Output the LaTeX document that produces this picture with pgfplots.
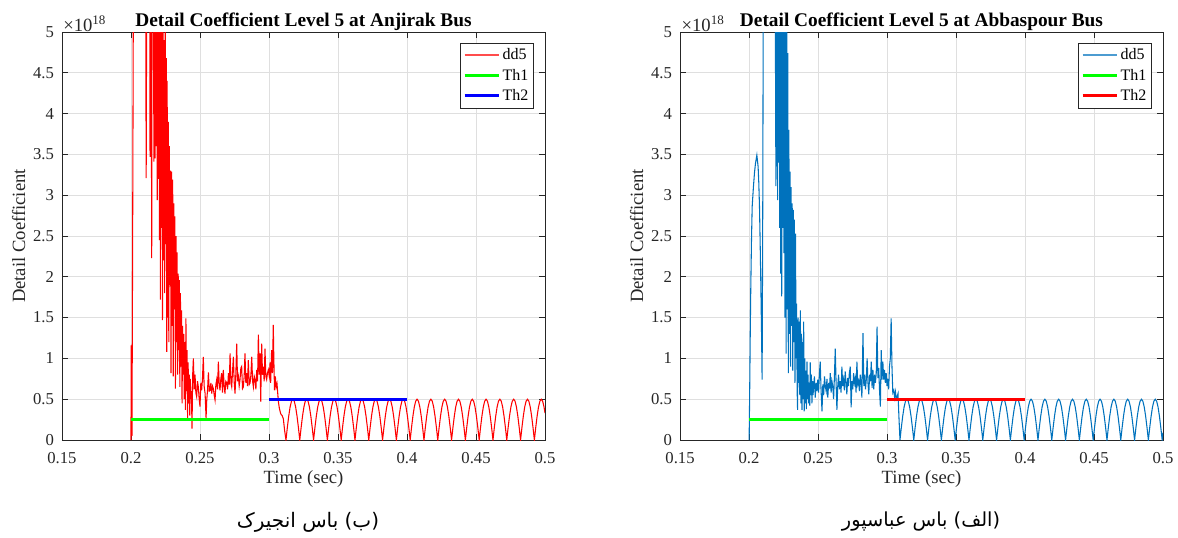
\documentclass[border=0pt]{standalone}
\usepackage{fontspec}
\setmainfont{Liberation Serif}
\newfontfamily\arabicfont[Script=Arabic]{DejaVu Sans}
\TeXXeTstate=1
\usepackage{pgfplots}
\usepackage{pgfplotstable}
\pgfplotsset{compat=1.18}
\definecolor{axgray}{rgb}{0.15,0.15,0.15}
\definecolor{gridgray}{RGB}{223,223,223}
\definecolor{mblue}{rgb}{0,0.447,0.741}

\pgfplotstableread[row sep=\\]{
x y\\
0.2000 0\\ 0.2001 1.16\\ 0.2004 0.60\\ 0.2007 0.05\\ 0.2012 2.5\\ 0.2018 6.0\\ 0.2030 9.0\\ 0.2045 10\\ 0.2060 9.0\\ 0.2075 9.5\\ 0.2090 8.5\\ 0.2105 6.5\\
0.2110 3.21\\ 0.2115 6.2\\ 0.2120 5.5\\ 0.2125 7.0\\ 0.2130 5.8\\ 0.2135 6.5\\ 0.2138 3.47\\ 0.2141 5.6\\ 0.2145 6.3\\ 0.2150 2.23\\ 0.2153 5.8\\ 0.2158 5.2\\
0.2162 6.0\\ 0.2166 3.41\\ 0.2170 5.5\\ 0.2174 3.45\\ 0.2178 6.0\\ 0.2182 3.6\\ 0.2186 5.4\\ 0.2190 2.94\\ 0.2194 5.8\\ 0.2198 3.2\\ 0.2202 6.0\\ 0.2206 2.45\\
0.2210 5.5\\ 0.2213 1.72\\ 0.2216 5.2\\ 0.2220 2.6\\ 0.2224 5.6\\ 0.2228 1.47\\ 0.2232 5.3\\ 0.2236 2.2\\ 0.2240 4.9\\ 0.2244 1.8\\ 0.2248 5.1\\ 0.2252 2.4\\
0.2256 4.68\\ 0.2259 1.08\\ 0.2262 4.4\\ 0.2266 1.5\\ 0.2270 3.9\\ 0.2274 1.2\\ 0.2278 3.6\\ 0.2282 1.9\\ 0.2286 3.3\\ 0.2290 0.82\\ 0.2294 3.29\\ 0.2298 1.4\\
0.2302 3.19\\ 0.2306 0.78\\ 0.2310 2.9\\ 0.2314 1.6\\ 0.2318 2.74\\ 0.2322 0.63\\ 0.2326 2.5\\ 0.2330 1.2\\ 0.2334 2.3\\ 0.2338 0.8\\ 0.2342 2.04\\ 0.2346 1.1\\
0.2350 1.96\\ 0.2354 0.65\\ 0.2358 1.8\\ 0.2362 0.9\\ 0.2366 1.59\\ 0.2370 0.45\\ 0.2374 1.4\\ 0.2378 0.8\\ 0.2382 1.3\\ 0.2386 0.5\\ 0.2390 1.2\\ 0.2394 0.37\\
0.2398 1.49\\ 0.2402 0.6\\ 0.2406 1.1\\ 0.2410 0.27\\ 0.2414 0.95\\ 0.2418 0.45\\ 0.2422 0.8\\ 0.2426 0.3\\ 0.2430 0.75\\ 0.2434 0.5\\ 0.2438 0.6\\ 0.2442 0.14\\
0.2447 0.8\\ 0.2452 1.00\\ 0.2458 0.62\\ 0.2464 0.80\\ 0.2470 0.58\\ 0.2476 0.53\\ 0.2482 0.72\\ 0.2488 0.65\\ 0.2494 0.50\\ 0.2500 0.41\\ 0.2506 0.70\\ 0.2512 0.61\\
0.2518 0.75\\ 0.2524 1.02\\ 0.2530 0.66\\ 0.2537 0.57\\ 0.2544 0.27\\ 0.2549 0.49\\ 0.2555 0.62\\ 0.2561 0.83\\ 0.2567 0.60\\ 0.2573 0.61\\ 0.2579 0.70\\ 0.2585 0.57\\
0.2591 0.66\\ 0.2597 0.63\\ 0.2603 0.55\\ 0.2609 0.49\\ 0.2615 0.68\\ 0.2621 0.74\\ 0.2627 0.62\\ 0.2633 0.96\\ 0.2639 0.70\\ 0.2645 0.61\\ 0.2651 0.75\\ 0.2657 0.82\\
0.2663 0.58\\ 0.2669 0.86\\ 0.2675 0.66\\ 0.2681 0.57\\ 0.2687 0.72\\ 0.2694 0.70\\ 0.2700 0.62\\ 0.2706 0.82\\ 0.2712 0.68\\ 0.2718 1.06\\ 0.2724 0.70\\ 0.2730 0.65\\
0.2736 0.85\\ 0.2742 1.02\\ 0.2748 0.70\\ 0.2754 0.57\\ 0.2760 0.82\\ 0.2766 1.18\\ 0.2772 0.72\\ 0.2778 0.78\\ 0.2784 0.66\\ 0.2790 0.74\\ 0.2796 0.88\\ 0.2802 0.90\\
0.2808 0.63\\ 0.2814 0.65\\ 0.2820 0.78\\ 0.2826 1.06\\ 0.2832 0.70\\ 0.2838 0.82\\ 0.2844 0.66\\ 0.2850 0.98\\ 0.2857 0.68\\ 0.2863 0.70\\ 0.2869 0.80\\ 0.2875 1.02\\
0.2881 0.72\\ 0.2887 0.65\\ 0.2893 0.78\\ 0.2899 0.74\\ 0.2905 0.62\\ 0.2911 0.86\\ 0.2917 0.72\\ 0.2923 1.29\\ 0.2929 0.80\\ 0.2935 1.06\\ 0.2940 0.47\\ 0.2947 1.18\\
0.2953 0.80\\ 0.2959 0.90\\ 0.2965 0.72\\ 0.2971 1.12\\ 0.2977 0.78\\ 0.2983 0.74\\ 0.2989 0.82\\ 0.2995 0.86\\ 0.3002 0.78\\ 0.3008 0.95\\ 0.3012 0.70\\ 0.3019 1.10\\
0.3025 0.82\\ 0.3031 1.41\\ 0.3035 1.00\\ 0.3040 0.61\\ 0.3046 0.78\\ 0.3052 0.65\\ 0.3058 0.69\\ 0.3068 0.47\\ 0.3075 0.39\\ 0.3085 0.32\\ 0.3095 0.30\\ 0.3104 0.26\\ 0.3113 0.12\\
0.3123 0\\ 0.3133 .155\\ 0.3143 .294\\ 0.3153 .405\\ 0.3163 .476\\ 0.3173 .5\\ 0.3183 .476\\ 0.3193 .405\\ 0.3203 .294\\ 0.3213 .155\\
0.3223 0\\ 0.3233 .155\\ 0.3243 .294\\ 0.3253 .405\\ 0.3263 .476\\ 0.3273 .5\\ 0.3283 .476\\ 0.3293 .405\\ 0.3303 .294\\ 0.3313 .155\\
0.3323 0\\ 0.3333 .155\\ 0.3343 .294\\ 0.3353 .405\\ 0.3363 .476\\ 0.3373 .5\\ 0.3383 .476\\ 0.3393 .405\\ 0.3403 .294\\ 0.3413 .155\\
0.3423 0\\ 0.3433 .155\\ 0.3443 .294\\ 0.3453 .405\\ 0.3463 .476\\ 0.3473 .5\\ 0.3483 .476\\ 0.3493 .405\\ 0.3503 .294\\ 0.3513 .155\\
0.3523 0\\ 0.3533 .155\\ 0.3543 .294\\ 0.3553 .405\\ 0.3563 .476\\ 0.3573 .5\\ 0.3583 .476\\ 0.3593 .405\\ 0.3603 .294\\ 0.3613 .155\\
0.3623 0\\ 0.3633 .155\\ 0.3643 .294\\ 0.3653 .405\\ 0.3663 .476\\ 0.3673 .5\\ 0.3683 .476\\ 0.3693 .405\\ 0.3703 .294\\ 0.3713 .155\\
0.3723 0\\ 0.3733 .155\\ 0.3743 .294\\ 0.3753 .405\\ 0.3763 .476\\ 0.3773 .5\\ 0.3783 .476\\ 0.3793 .405\\ 0.3803 .294\\ 0.3813 .155\\
0.3823 0\\ 0.3833 .155\\ 0.3843 .294\\ 0.3853 .405\\ 0.3863 .476\\ 0.3873 .5\\ 0.3883 .476\\ 0.3893 .405\\ 0.3903 .294\\ 0.3913 .155\\
0.3923 0\\ 0.3933 .155\\ 0.3943 .294\\ 0.3953 .405\\ 0.3963 .476\\ 0.3973 .5\\ 0.3983 .476\\ 0.3993 .405\\ 0.4003 .294\\ 0.4013 .155\\
0.4023 0\\ 0.4033 .155\\ 0.4043 .294\\ 0.4053 .405\\ 0.4063 .476\\ 0.4073 .5\\ 0.4083 .476\\ 0.4093 .405\\ 0.4103 .294\\ 0.4113 .155\\
0.4123 0\\ 0.4133 .155\\ 0.4143 .294\\ 0.4153 .405\\ 0.4163 .476\\ 0.4173 .5\\ 0.4183 .476\\ 0.4193 .405\\ 0.4203 .294\\ 0.4213 .155\\
0.4223 0\\ 0.4233 .155\\ 0.4243 .294\\ 0.4253 .405\\ 0.4263 .476\\ 0.4273 .5\\ 0.4283 .476\\ 0.4293 .405\\ 0.4303 .294\\ 0.4313 .155\\
0.4323 0\\ 0.4333 .155\\ 0.4343 .294\\ 0.4353 .405\\ 0.4363 .476\\ 0.4373 .5\\ 0.4383 .476\\ 0.4393 .405\\ 0.4403 .294\\ 0.4413 .155\\
0.4423 0\\ 0.4433 .155\\ 0.4443 .294\\ 0.4453 .405\\ 0.4463 .476\\ 0.4473 .5\\ 0.4483 .476\\ 0.4493 .405\\ 0.4503 .294\\ 0.4513 .155\\
0.4523 0\\ 0.4533 .155\\ 0.4543 .294\\ 0.4553 .405\\ 0.4563 .476\\ 0.4573 .5\\ 0.4583 .476\\ 0.4593 .405\\ 0.4603 .294\\ 0.4613 .155\\
0.4623 0\\ 0.4633 .155\\ 0.4643 .294\\ 0.4653 .405\\ 0.4663 .476\\ 0.4673 .5\\ 0.4683 .476\\ 0.4693 .405\\ 0.4703 .294\\ 0.4713 .155\\
0.4723 0\\ 0.4733 .155\\ 0.4743 .294\\ 0.4753 .405\\ 0.4763 .476\\ 0.4773 .5\\ 0.4783 .476\\ 0.4793 .405\\ 0.4803 .294\\ 0.4813 .155\\
0.4823 0\\ 0.4833 .155\\ 0.4843 .294\\ 0.4853 .405\\ 0.4863 .476\\ 0.4873 .5\\ 0.4883 .476\\ 0.4893 .405\\ 0.4903 .294\\ 0.4913 .155\\
0.4923 0\\ 0.4933 .155\\ 0.4943 .294\\ 0.4953 .405\\ 0.4963 .476\\ 0.4973 .5\\ 0.4983 .476\\ 0.4993 .405\\ 0.5000 .33\\
}\ddA

\pgfplotstableread[row sep=\\]{
x y\\
0.2001 0\\ 0.2005 0.6\\ 0.2009 1.3\\ 0.2013 1.88\\ 0.2018 2.45\\ 0.2023 2.86\\ 0.2032 3.10\\ 0.2040 3.28\\ 0.2047 3.39\\ 0.2057 3.49\\ 0.2066 3.35\\ 0.2071 3.15\\
0.2076 2.86\\ 0.2081 2.4\\ 0.2086 1.88\\ 0.2091 1.3\\ 0.2095 0.74\\ 0.2100 3.0\\ 0.2104 6.0\\ 0.2115 8\\ 0.2125 9.5\\ 0.2135 10\\ 0.2145 9\\ 0.2155 9.5\\
0.2165 8.5\\ 0.2175 9\\ 0.2185 7\\ 0.2190 5.6\\ 0.2195 3.11\\ 0.2199 5.8\\ 0.2203 6.5\\ 0.2207 2.94\\ 0.2211 6.0\\ 0.2215 3.4\\ 0.2219 5.7\\ 0.2223 2.6\\
0.2226 6.2\\ 0.2229 2.04\\ 0.2233 5.5\\ 0.2237 1.76\\ 0.2241 5.9\\ 0.2245 2.6\\ 0.2249 5.3\\ 0.2253 2.29\\ 0.2257 5.6\\ 0.2261 1.5\\ 0.2265 5.2\\ 0.2269 1.06\\
0.2273 5.4\\ 0.2277 1.6\\ 0.2281 4.74\\ 0.2285 0.82\\ 0.2289 3.8\\ 0.2293 1.3\\ 0.2297 3.29\\ 0.2301 0.9\\ 0.2305 3.1\\ 0.2309 1.4\\ 0.2313 2.9\\ 0.2317 0.85\\
0.2321 2.82\\ 0.2325 1.2\\ 0.2329 2.7\\ 0.2333 0.7\\ 0.2337 2.53\\ 0.2341 1.0\\ 0.2345 1.67\\ 0.2349 0.6\\ 0.2352 0.37\\ 0.2356 1.5\\ 0.2360 0.7\\ 0.2364 1.45\\
0.2368 0.55\\ 0.2372 1.59\\ 0.2376 0.45\\ 0.2380 1.3\\ 0.2384 0.37\\ 0.2388 1.2\\ 0.2392 0.5\\ 0.2396 1.45\\ 0.2400 0.35\\ 0.2404 1.0\\ 0.2408 0.45\\ 0.2412 0.85\\
0.2416 0.38\\ 0.2420 0.96\\ 0.2424 0.5\\ 0.2428 0.8\\ 0.2432 0.45\\ 0.2436 0.7\\ 0.2440 0.42\\ 0.2444 0.95\\ 0.2448 0.55\\ 0.2452 0.8\\ 0.2456 0.45\\ 0.2460 0.72\\
0.2464 0.55\\ 0.2468 0.65\\ 0.2474 0.78\\ 0.2480 0.52\\ 0.2486 0.70\\ 0.2492 0.60\\ 0.2498 0.74\\ 0.2504 0.58\\ 0.2510 0.80\\ 0.2516 0.96\\ 0.2522 0.62\\ 0.2529 0.35\\
0.2535 0.68\\ 0.2541 0.55\\ 0.2547 0.78\\ 0.2553 0.66\\ 0.2559 0.60\\ 0.2565 0.75\\ 0.2571 0.52\\ 0.2577 0.70\\ 0.2583 0.63\\ 0.2589 0.82\\ 0.2595 0.58\\ 0.2601 0.72\\
0.2607 0.66\\ 0.2613 0.50\\ 0.2619 0.78\\ 0.2625 1.12\\ 0.2631 0.70\\ 0.2637 0.37\\ 0.2643 0.66\\ 0.2649 0.80\\ 0.2655 0.62\\ 0.2661 0.72\\ 0.2667 0.58\\ 0.2673 0.90\\
0.2679 0.66\\ 0.2685 0.74\\ 0.2691 0.61\\ 0.2697 0.84\\ 0.2703 0.70\\ 0.2709 0.56\\ 0.2715 0.76\\ 0.2721 0.66\\ 0.2727 0.82\\ 0.2734 0.90\\ 0.2740 0.40\\ 0.2746 0.72\\
0.2752 0.62\\ 0.2758 0.82\\ 0.2764 0.70\\ 0.2770 0.76\\ 0.2776 0.58\\ 0.2782 0.96\\ 0.2788 0.68\\ 0.2794 0.72\\ 0.2800 0.60\\ 0.2806 0.80\\ 0.2812 0.70\\ 0.2818 0.52\\
0.2826 1.31\\ 0.2832 0.66\\ 0.2838 0.80\\ 0.2844 0.62\\ 0.2850 0.74\\ 0.2856 1.00\\ 0.2862 0.70\\ 0.2868 0.56\\ 0.2874 0.80\\ 0.2880 0.72\\ 0.2886 0.96\\ 0.2892 0.64\\
0.2898 0.86\\ 0.2904 0.62\\ 0.2910 0.80\\ 0.2916 0.70\\ 0.2922 0.82\\ 0.2928 1.39\\ 0.2934 0.76\\ 0.2940 0.88\\ 0.2946 0.60\\ 0.2952 0.41\\ 0.2958 1.10\\ 0.2964 0.74\\
0.2970 0.96\\ 0.2976 0.74\\ 0.2982 0.86\\ 0.2988 0.70\\ 0.2994 0.82\\ 0.3000 0.66\\ 0.3006 0.75\\ 0.3012 0.62\\ 0.3018 0.90\\ 0.3024 1.0\\ 0.3030 1.49\\ 0.3036 0.9\\
0.3042 0.58\\ 0.3049 0.61\\ 0.3055 0.52\\ 0.3061 0.59\\ 0.3067 0.50\\ 0.3073 0.53\\ 0.3080 0.57\\ 0.3086 0.30\\
0.3094 0\\ 0.3104 .155\\ 0.3114 .294\\ 0.3124 .405\\ 0.3134 .476\\ 0.3144 .5\\ 0.3154 .476\\ 0.3164 .405\\ 0.3174 .294\\ 0.3184 .155\\
0.3194 0\\ 0.3204 .155\\ 0.3214 .294\\ 0.3224 .405\\ 0.3234 .476\\ 0.3244 .5\\ 0.3254 .476\\ 0.3264 .405\\ 0.3274 .294\\ 0.3284 .155\\
0.3294 0\\ 0.3304 .155\\ 0.3314 .294\\ 0.3324 .405\\ 0.3334 .476\\ 0.3344 .5\\ 0.3354 .476\\ 0.3364 .405\\ 0.3374 .294\\ 0.3384 .155\\
0.3394 0\\ 0.3404 .155\\ 0.3414 .294\\ 0.3424 .405\\ 0.3434 .476\\ 0.3444 .5\\ 0.3454 .476\\ 0.3464 .405\\ 0.3474 .294\\ 0.3484 .155\\
0.3494 0\\ 0.3504 .155\\ 0.3514 .294\\ 0.3524 .405\\ 0.3534 .476\\ 0.3544 .5\\ 0.3554 .476\\ 0.3564 .405\\ 0.3574 .294\\ 0.3584 .155\\
0.3594 0\\ 0.3604 .155\\ 0.3614 .294\\ 0.3624 .405\\ 0.3634 .476\\ 0.3644 .5\\ 0.3654 .476\\ 0.3664 .405\\ 0.3674 .294\\ 0.3684 .155\\
0.3694 0\\ 0.3704 .155\\ 0.3714 .294\\ 0.3724 .405\\ 0.3734 .476\\ 0.3744 .5\\ 0.3754 .476\\ 0.3764 .405\\ 0.3774 .294\\ 0.3784 .155\\
0.3794 0\\ 0.3804 .155\\ 0.3814 .294\\ 0.3824 .405\\ 0.3834 .476\\ 0.3844 .5\\ 0.3854 .476\\ 0.3864 .405\\ 0.3874 .294\\ 0.3884 .155\\
0.3894 0\\ 0.3904 .155\\ 0.3914 .294\\ 0.3924 .405\\ 0.3934 .476\\ 0.3944 .5\\ 0.3954 .476\\ 0.3964 .405\\ 0.3974 .294\\ 0.3984 .155\\
0.3994 0\\ 0.4004 .155\\ 0.4014 .294\\ 0.4024 .405\\ 0.4034 .476\\ 0.4044 .5\\ 0.4054 .476\\ 0.4064 .405\\ 0.4074 .294\\ 0.4084 .155\\
0.4094 0\\ 0.4104 .155\\ 0.4114 .294\\ 0.4124 .405\\ 0.4134 .476\\ 0.4144 .5\\ 0.4154 .476\\ 0.4164 .405\\ 0.4174 .294\\ 0.4184 .155\\
0.4194 0\\ 0.4204 .155\\ 0.4214 .294\\ 0.4224 .405\\ 0.4234 .476\\ 0.4244 .5\\ 0.4254 .476\\ 0.4264 .405\\ 0.4274 .294\\ 0.4284 .155\\
0.4294 0\\ 0.4304 .155\\ 0.4314 .294\\ 0.4324 .405\\ 0.4334 .476\\ 0.4344 .5\\ 0.4354 .476\\ 0.4364 .405\\ 0.4374 .294\\ 0.4384 .155\\
0.4394 0\\ 0.4404 .155\\ 0.4414 .294\\ 0.4424 .405\\ 0.4434 .476\\ 0.4444 .5\\ 0.4454 .476\\ 0.4464 .405\\ 0.4474 .294\\ 0.4484 .155\\
0.4494 0\\ 0.4504 .155\\ 0.4514 .294\\ 0.4524 .405\\ 0.4534 .476\\ 0.4544 .5\\ 0.4554 .476\\ 0.4564 .405\\ 0.4574 .294\\ 0.4584 .155\\
0.4594 0\\ 0.4604 .155\\ 0.4614 .294\\ 0.4624 .405\\ 0.4634 .476\\ 0.4644 .5\\ 0.4654 .476\\ 0.4664 .405\\ 0.4674 .294\\ 0.4684 .155\\
0.4694 0\\ 0.4704 .155\\ 0.4714 .294\\ 0.4724 .405\\ 0.4734 .476\\ 0.4744 .5\\ 0.4754 .476\\ 0.4764 .405\\ 0.4774 .294\\ 0.4784 .155\\
0.4794 0\\ 0.4804 .155\\ 0.4814 .294\\ 0.4824 .405\\ 0.4834 .476\\ 0.4844 .5\\ 0.4854 .476\\ 0.4864 .405\\ 0.4874 .294\\ 0.4884 .155\\
0.4894 0\\ 0.4904 .155\\ 0.4914 .294\\ 0.4924 .405\\ 0.4934 .476\\ 0.4944 .5\\ 0.4954 .476\\ 0.4964 .405\\ 0.4974 .294\\ 0.4984 .155\\
0.4994 0\\ 0.5000 .09\\
}\ddB

\pgfplotsset{mstyle/.style={
  width=362.25pt, height=306pt, scale only axis,
  xmin=0.15, xmax=0.5, ymin=0, ymax=5,
  xtick={0.15,0.2,0.25,0.3,0.35,0.4,0.45,0.5},
  xticklabels={0.15,0.2,0.25,0.3,0.35,0.4,0.45,0.5},
  ytick={0,0.5,1,1.5,2,2.5,3,3.5,4,4.5,5},
  yticklabels={0,0.5,1,1.5,2,2.5,3,3.5,4,4.5,5},
  /pgf/number format/assume math mode=true,
  grid=major, major grid style={gridgray, line width=0.6pt},
  axis line style={axgray, line width=0.6pt},
  tick style={axgray, line width=0.6pt}, major tick length=4.5pt,
  tick align=inside,
  ticklabel style={font=\fontsize{12.5}{15}\selectfont, text=axgray},
  xticklabel style={yshift=-5.5pt},
  yticklabel style={xshift=-2.5pt},
  label style={font=\fontsize{14}{16}\selectfont, text=axgray},
  xlabel={Time (sec)}, ylabel={Detail Coefficient},
  xlabel style={at={(axis description cs:0.5,0)}, anchor=base, yshift=-32.25pt},
  ylabel style={at={(axis description cs:0,0.5)}, anchor=base, yshift=27.75pt},
  title style={font=\bfseries\fontsize{14.5}{17}\selectfont, text=black, at={(axis description cs:0.5,1)}, anchor=base, yshift=-1.5pt},
  legend style={at={(1,1)}, anchor=north east, xshift=-8.25pt, yshift=-8pt, draw=axgray, line width=0.5pt, fill=white,
    font=\fontsize{12}{14}\selectfont, inner xsep=2pt, inner ysep=1.5pt, row sep=0pt,
    nodes={inner ysep=2.7pt, inner xsep=2pt}},
  legend cell align=left,
  legend image code/.code={\draw[##1] (0pt,0pt) -- (25.5pt,0pt);},
}}

\begin{document}
\begin{tikzpicture}
\useasboundingbox (0,0) rectangle (883.5pt,402.75pt);
\begin{axis}[mstyle, at={(46.5pt,72.75pt)}, anchor=south west,
  title={Detail Coefficient Level 5 at Anjirak Bus}]
\addplot[draw=red, line width=0.8pt, forget plot] table {\ddA};
\addlegendimage{draw=red!70!white, line width=1.4pt}
\addlegendentry{dd5}
\addplot[draw=green, line width=2pt] coordinates {(0.2,0.25) (0.3,0.25)};
\addlegendentry{Th1}
\addplot[draw=blue, line width=2pt] coordinates {(0.3,0.5) (0.4,0.5)};
\addlegendentry{Th2}
\end{axis}
\begin{axis}[mstyle, at={(510pt,72.75pt)}, anchor=south west,
  title={Detail Coefficient Level 5 at Abbaspour Bus}]
\addplot[draw=mblue, line width=0.8pt, forget plot] table {\ddB};
\addlegendimage{draw=mblue!70!white, line width=1.4pt}
\addlegendentry{dd5}
\addplot[draw=green, line width=2pt] coordinates {(0.2,0.25) (0.3,0.25)};
\addlegendentry{Th1}
\addplot[draw=red, line width=2pt] coordinates {(0.3,0.5) (0.4,0.5)};
\addlegendentry{Th2}
\end{axis}
\node[anchor=base west, text=axgray, font=\fontsize{14}{16}\selectfont, inner sep=0pt] at (47.25pt,379pt) {×10\textsuperscript{18}};
\node[anchor=base west, text=axgray, font=\fontsize{14}{16}\selectfont, inner sep=0pt] at (511pt,379pt) {×10\textsuperscript{18}};
\node[anchor=center, font=\fontsize{15}{18}\selectfont, inner sep=0pt] at (231pt,11.25pt) {\arabicfont\beginR (ب) باس انجیرک\endR};
\node[anchor=center, font=\fontsize{14.5}{18}\selectfont, inner sep=0pt] at (690.75pt,11.25pt) {\arabicfont\beginR (الف) باس عباسپور\endR};
\end{tikzpicture}
\end{document}
